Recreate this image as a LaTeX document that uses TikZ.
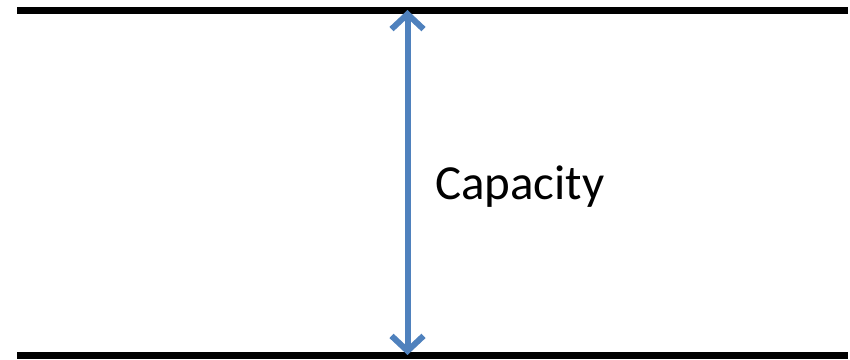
\documentclass[tikz,border=0pt]{standalone}
\usepackage{fontspec}
\setmainfont{Carlito}
\usetikzlibrary{arrows.meta}
\definecolor{pipeblue}{RGB}{79,129,189}

\begin{document}
\begin{tikzpicture}[
      x=1pt, y=1pt,
      wall/.style={line width=7pt, black},
      span/.style={{Straight Barb[length=15pt,width=32pt,line join=miter]}-{Straight Barb[length=15pt,width=32pt,line join=miter]},
                   line width=6pt, pipeblue},
      label/.style={font=\fontsize{49}{58}\selectfont, anchor=west, inner sep=0pt}
    ]
    \useasboundingbox (0,0) rectangle (850,359);
    % --- channel walls ---
    \coordinate (topL) at (17,348.5);
    \coordinate (topR) at (848,348.5);
    \coordinate (botL) at (17,3.5);
    \coordinate (botR) at (848,3.5);
    \draw[wall] (topL) -- (topR);
    \draw[wall] (botL) -- (botR);

    % --- capacity arrow ---
    \coordinate (up) at (407.5,349);
    \coordinate (down) at (407.5,4);
    \draw[span] (down) -- (up);
    \node[label] (cap) at (435,172) {Capacity};
  \end{tikzpicture}
\end{document}
